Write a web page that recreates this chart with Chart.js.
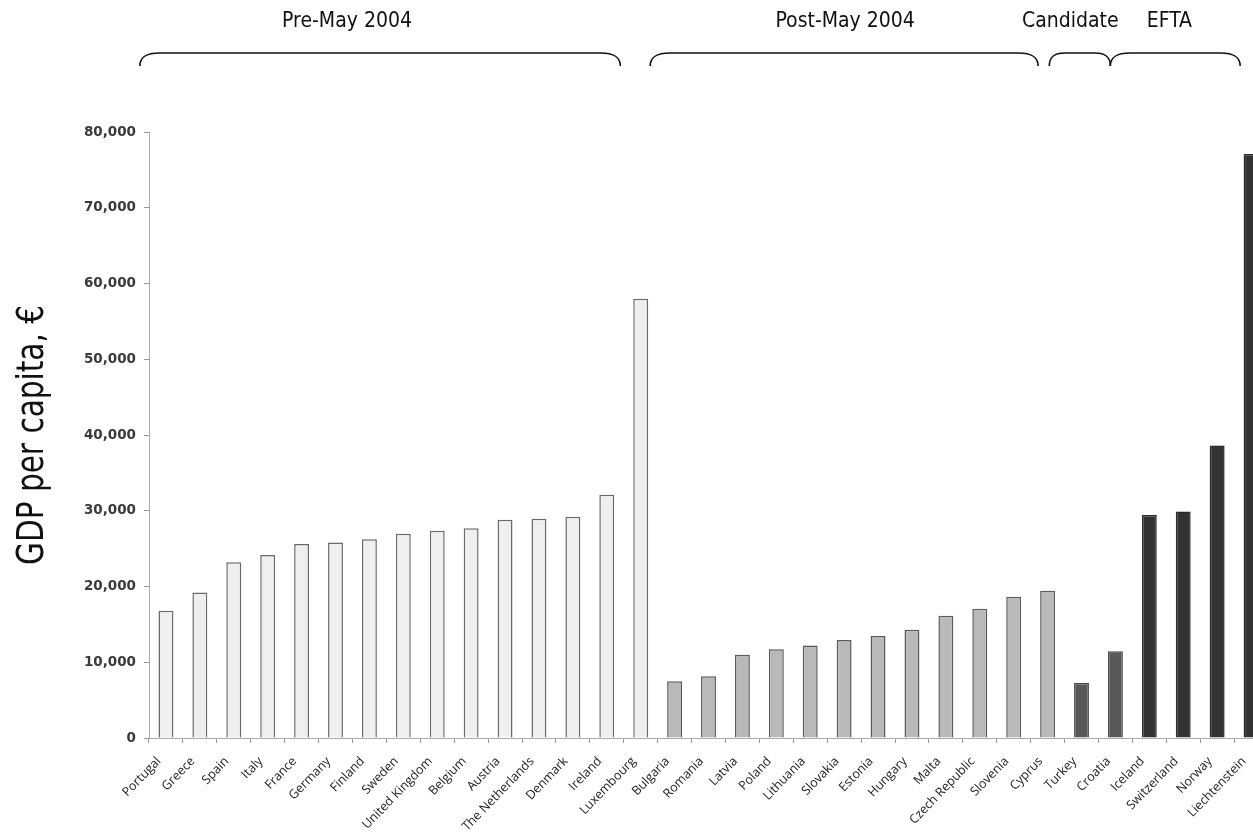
<!DOCTYPE html>
<html lang="en">
<head>
    <meta charset="UTF-8">
    <title>GDP per capita</title>
    <script src="https://cdn.jsdelivr.net/npm/chart.js"></script>
    <style>
        html, body { margin: 0; padding: 0; background: #fff; overflow: hidden; }
        #wrap { width: 1270px; height: 840px; position: relative; }
    </style>
</head>
<body>
    <div id="wrap"><canvas id="gdpChart"></canvas></div>

    <script>
        // countries, in chart order
        var countries = ['Portugal', 'Greece', 'Spain', 'Italy', 'France', 'Germany', 'Finland', 'Sweden',
            'United Kingdom', 'Belgium', 'Austria', 'The Netherlands', 'Denmark', 'Ireland', 'Luxembourg',
            'Bulgaria', 'Romania', 'Latvia', 'Poland', 'Lithuania', 'Slovakia', 'Estonia', 'Hungary', 'Malta',
            'Czech Republic', 'Slovenia', 'Cyprus',
            'Turkey', 'Croatia',
            'Iceland', 'Switzerland', 'Norway', 'Liechtenstein'];

        // GDP per capita, EUR
        var gdp = [16800, 19200, 23200, 24150, 25600, 25800, 26250, 26950, 27350, 27700, 28800, 28950, 29200, 32100, 58000,
            7500, 8150, 11000, 11700, 12200, 12950, 13450, 14300, 16150, 17050, 18650, 19450,
            7250, 11450,
            29450, 29900, 38600, 77100];

        // groups: first index, last index (exclusive), label
        var groupNames = ['Pre-May 2004', 'Post-May 2004', 'Candidate', 'EFTA'];
        var groupStart = [0, 15, 27, 29];
        var groupEnd = [15, 27, 29, 33];
        var groupFill = ['#efefef', '#b9b9b9', '#585858', '#333333'];
        var groupBorder = ['#6a6a6a', '#5a5a5a', '#4a4a4a', '#2a2a2a'];
        // brace ends and label centre, in category-slot units from the y axis
        var braceLeft = [-0.27, 14.78, 26.55, 28.35];
        var braceRight = [13.9, 26.22, 28.35, 32.18];
        var labelAt = [5.84, 20.53, 27.17, 30.09];

        var yTicks = [0, 10000, 20000, 30000, 40000, 50000, 60000, 70000, 80000];
        var yTitle = 'GDP per capita, €';

        var fills = [], borders = [];
        countries.forEach(function (c, i) {
            for (var g = 0; g < groupStart.length; g++) {
                if (i >= groupStart[g] && i < groupEnd[g]) {
                    fills.push(groupFill[g]);
                    borders.push(groupBorder[g]);
                }
            }
        });

        // group braces + labels along the top, narrow y-axis title
        var annotations = {
            id: 'annotations',
            afterDraw: function (chart) {
                var ctx = chart.ctx;
                var x = chart.scales.x;
                var area = chart.chartArea;
                var slot = (x.right - x.left) / countries.length;
                var px = function (s) { return x.left + s * slot; };
                var top = 53, drop = 13, r = 20;
                ctx.save();
                ctx.strokeStyle = '#111';
                ctx.lineWidth = 1.6;
                ctx.fillStyle = '#111';
                ctx.font = '21px "DejaVu Sans Condensed", "DejaVu Sans", sans-serif';
                ctx.textAlign = 'center';
                ctx.textBaseline = 'alphabetic';
                for (var g = 0; g < groupNames.length; g++) {
                    var a = px(braceLeft[g]), b = px(braceRight[g]);
                    var rr = Math.min(r, (b - a) / 4);
                    ctx.beginPath();
                    ctx.moveTo(a, top + drop);
                    ctx.bezierCurveTo(a, top + 4, a + rr * 0.3, top, a + rr, top);
                    ctx.lineTo(b - rr, top);
                    ctx.bezierCurveTo(b - rr * 0.3, top, b, top + 4, b, top + drop);
                    ctx.stroke();
                    ctx.fillText(groupNames[g], px(labelAt[g]), 27);
                }

                ctx.font = '38px "DejaVu Sans Condensed", "DejaVu Sans", sans-serif';
                var w = ctx.measureText(yTitle).width;
                ctx.translate(43, (area.top + area.bottom) / 2);
                ctx.rotate(-Math.PI / 2);
                ctx.scale(260 / w, 1);
                ctx.fillText(yTitle, 0, 0);
                ctx.restore();
            }
        };

        var ctx = document.getElementById('gdpChart').getContext('2d');
        var gdpChart = new Chart(ctx, {
            type: 'bar',
            data: {
                labels: countries,
                datasets: [{
                    data: gdp,
                    backgroundColor: fills,
                    borderColor: borders,
                    borderWidth: 1.5,
                    barPercentage: 0.44,
                    categoryPercentage: 1
                }]
            },
            options: {
                responsive: true,
                maintainAspectRatio: false,
                animation: false,
                layout: { padding: { top: 132, right: 2, left: 0, bottom: 0 } },
                plugins: { legend: { display: false }, tooltip: { enabled: false } },
                scales: {
                    x: {
                        afterFit: function (s) {
                            s.height = 102;
                            s.paddingLeft = 0;
                            s.paddingRight = 0;
                        },
                        border: { color: '#aaaaaa' },
                        grid: { drawOnChartArea: false, tickLength: 5, color: '#999999' },
                        ticks: {
                            autoSkip: false,
                            minRotation: 46,
                            maxRotation: 46,
                            padding: 11,
                            labelOffset: -7,
                            color: '#222',
                            font: { family: '"Open Sans", sans-serif', size: 12.5 }
                        }
                    },
                    y: {
                        min: 0,
                        max: 80000,
                        afterFit: function (s) { s.width = 149; },
                        afterBuildTicks: function (s) {
                            s.ticks = yTicks.map(function (v) { return { value: v }; });
                        },
                        border: { color: '#aaaaaa' },
                        grid: { drawOnChartArea: false, tickLength: 5, color: '#999999' },
                        ticks: {
                            padding: 8,
                            color: '#3a3a3a',
                            font: { family: '"DejaVu Sans", sans-serif', size: 13.5, weight: 'bold' },
                            callback: function (v) { return v.toLocaleString('en-US'); }
                        }
                    }
                }
            },
            plugins: [annotations]
        });
    </script>
</body>
</html>
